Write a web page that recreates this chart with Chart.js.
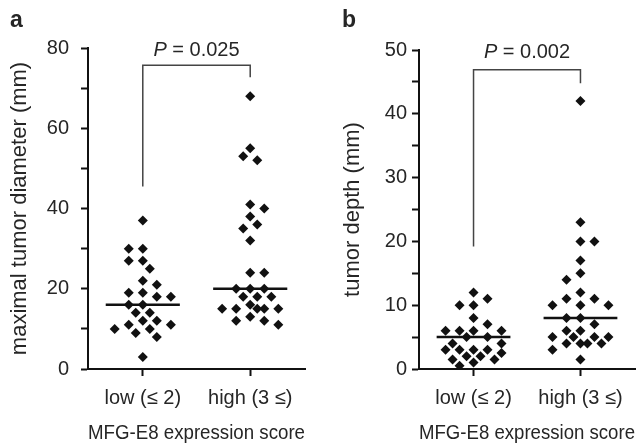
<!DOCTYPE html>
<html>
<head>
<meta charset="utf-8">
<script src="https://cdn.jsdelivr.net/npm/chart.js@4.4.1/dist/chart.umd.min.js"></script>
<style>
  body { margin: 0; background: #fff; }
  .panel { position: absolute; top: 0; height: 446px; }
  #wrapA { left: 0; width: 320px; }
  #wrapB { left: 320px; width: 322px; }
</style>
</head>
<body>
<div id="wrapA" class="panel"><canvas id="chartA"></canvas></div>
<div id="wrapB" class="panel"><canvas id="chartB"></canvas></div>
<script>
const groups = ['low (\u2264 2)', 'high (3 \u2264)'];
const xTitle = 'MFG-E8 expression score';

// panel a - maximal tumor diameter (mm)
const diamLow = [37, 30, 30, 27, 27, 25, 22, 21, 19, 19, 18, 18, 16, 16, 14, 14, 12, 12, 11, 11, 10, 10, 9, 8, 3];
const diamHigh = [68, 55, 53, 52, 41, 40, 38, 36, 35, 32, 24, 24, 20, 20, 20, 18, 18, 18, 16, 15, 15, 15, 15, 15, 13, 12, 12, 11];
const diamMedians = [16, 20];
const diamBracket = [45.5, 75.7, 72.7];   // low end, top, high end
const diamTicks = [0, 20, 40, 60, 80];

// panel b - tumor depth (mm)
const depthLow = [12, 11, 10, 10, 8, 7, 6, 6, 6, 6, 5, 5, 4, 4, 3, 3, 3, 3, 2.5, 2, 2, 1.5, 1.5, 1, 0.5];
const depthHigh = [42, 23, 20, 20, 17, 15, 14, 12, 11, 11, 10, 10, 10, 8, 8, 7, 6, 6, 5, 5, 5, 5, 4, 4, 4, 4, 3, 1.5];
const depthMedians = [5, 8];
const depthBracket = [19.2, 46.9, 44.8];
const depthTicks = [0, 10, 20, 30, 40, 50];

const FONT = '"Liberation Sans", Arial, sans-serif';
const INK = '#262626';
const PX_PER_GROUP = 107;   // horizontal pixels between the two groups
const STEP = 7;             // half lane, px
const MAX_K = 8;            // at most 4 lanes each side
const GAP = 10;             // wanted distance between two dots, px

// beeswarm: offsets in px, nearest free spot, alternating sides;
// when the swarm is full, take the least crowded spot
function swarm(values, pxPerUnit) {
    const placed = [];
    return values.map((v, i) => {
        const y = v * pxPerUnit;
        const side = i % 2 ? 1 : -1;
        let best = 0, bestDist = -1;
        for (let k = 0; k <= MAX_K; k++) {
            const cand = k === 0 ? 0 : side * (k % 2 ? 1 : -1) * Math.ceil(k / 2) * STEP;
            const d = placed.reduce((m, p) => Math.min(m, Math.hypot(p.x - cand, p.y - y)), Infinity);
            if (d >= GAP) { best = cand; break; }
            if (d > bestDist) { bestDist = d; best = cand; }
        }
        placed.push({x: best, y: y});
        return best / PX_PER_GROUP;
    });
}

const annotate = {
    id: 'annotate',
    afterDraw(chart, args, o) {
        const {ctx, chartArea, scales} = chart;
        ctx.save();
        ctx.fillStyle = INK;
        ctx.textBaseline = 'alphabetic';
        ctx.textAlign = 'left';
        ctx.font = 'bold 23px ' + FONT;
        ctx.fillText(o.letter, o.letterX, 27);

        const rest = ' = ' + o.p;
        ctx.font = 'italic 20px ' + FONT;
        const wP = ctx.measureText('P').width;
        ctx.font = '20px ' + FONT;
        const wR = ctx.measureText(rest).width;
        const x0 = scales.x.getPixelForValue(1.5) - (wP + wR) / 2;
        const y = chartArea.top + 8;
        ctx.font = 'italic 20px ' + FONT;
        ctx.fillText('P', x0, y);
        ctx.font = '20px ' + FONT;
        ctx.fillText(rest, x0 + wP, y);
        ctx.restore();
    }
};

function makePanel(id, cfg) {
    const pxPerUnit = cfg.plotHeight / cfg.yMax;
    const pts = [];
    [cfg.low, cfg.high].forEach((vals, g) => {
        const offs = swarm(vals, pxPerUnit);
        vals.forEach((v, i) => pts.push({x: g + 1 + offs[i], y: v}));
    });
    const medianSets = cfg.medians.map((m, g) => ({
        type: 'line',
        data: [{x: g + 1 - 0.345, y: m}, {x: g + 1 + 0.345, y: m}],
        borderColor: '#111',
        borderWidth: 2.5,
        pointRadius: 0
    }));
    const b = cfg.bracket;

    new Chart(document.getElementById(id), {
        type: 'scatter',
        data: {
            datasets: [{
                data: pts,
                pointStyle: 'rectRot',
                radius: 5,
                borderWidth: 0,
                backgroundColor: '#111'
            }].concat(medianSets, [{
                type: 'line',
                data: [{x: 1, y: b[0]}, {x: 1, y: b[1]}, {x: 2, y: b[1]}, {x: 2, y: b[2]}],
                borderColor: '#444',
                borderWidth: 1.5,
                pointRadius: 0
            }])
        },
        options: {
            responsive: true,
            maintainAspectRatio: false,
            animation: false,
            layout: {
                padding: {top: cfg.top, right: cfg.right, left: 0, bottom: 0}
            },
            plugins: {
                legend: false,
                tooltip: {enabled: false},
                annotate: {letter: cfg.letter, letterX: cfg.letterX, p: cfg.p}
            },
            scales: {
                x: {
                    type: 'linear',
                    min: 0.49,
                    max: 2.51,
                    afterBuildTicks: s => { s.ticks = [{value: 1}, {value: 2}]; },
                    afterFit: s => { s.height = 77; },
                    ticks: {
                        callback: v => groups[v - 1],
                        color: INK,
                        font: {family: FONT, size: 20},
                        padding: 10,
                        maxRotation: 0
                    },
                    grid: {drawOnChartArea: false, tickLength: 7, tickColor: '#111', tickWidth: 2},
                    border: {color: '#111', width: 2},
                    title: {
                        display: true,
                        text: xTitle,
                        color: INK,
                        font: {family: FONT, size: 20},
                        padding: {top: 0, bottom: 1}
                    }
                },
                y: {
                    min: 0,
                    max: cfg.yMax,
                    afterFit: s => { s.width = cfg.axisLeft; },
                    afterBuildTicks: s => {
                        const step = cfg.ticks[1] / 2;
                        s.ticks = [];
                        for (let v = 0; v <= cfg.yMax; v += step) s.ticks.push({value: v});
                    },
                    ticks: {
                        callback: v => cfg.ticks.includes(v) ? v : '',
                        color: INK,
                        font: {family: FONT, size: 20},
                        padding: cfg.tickPad
                    },
                    grid: {drawOnChartArea: false, tickLength: 7, tickColor: '#111', tickWidth: 2},
                    border: {color: '#111', width: 2},
                    title: {
                        display: true,
                        text: cfg.yTitle,
                        color: INK,
                        font: {family: FONT, size: 22},
                        padding: {top: cfg.titlePad, bottom: 0}
                    }
                }
            }
        },
        plugins: [annotate]
    });
}

makePanel('chartA', {
    low: diamLow, high: diamHigh, medians: diamMedians, bracket: diamBracket,
    ticks: diamTicks, yMax: 80, yTitle: 'maximal tumor diameter (mm)',
    plotHeight: 321, top: 48, right: 15, axisLeft: 88, tickPad: 12, titlePad: 7,
    letter: 'a', letterX: 10, p: '0.025'
});

makePanel('chartB', {
    low: depthLow, high: depthHigh, medians: depthMedians, bracket: depthBracket,
    ticks: depthTicks, yMax: 50, yTitle: 'tumor depth (mm)',
    plotHeight: 319, top: 50, right: 7, axisLeft: 99, tickPad: 5, titlePad: 20,
    letter: 'b', letterX: 22, p: '0.002'
});
</script>
</body>
</html>
